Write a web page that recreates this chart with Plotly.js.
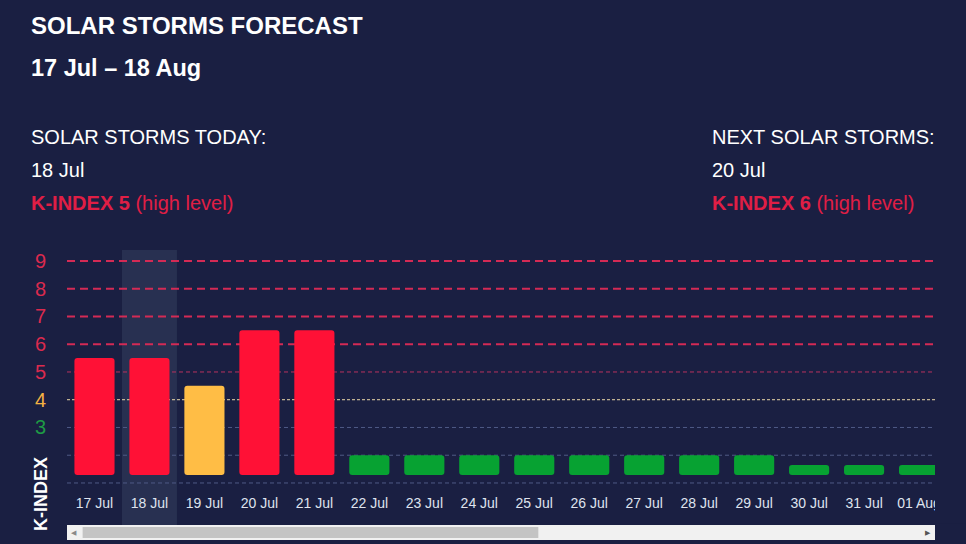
<!DOCTYPE html>
<html>
<head>
<meta charset="utf-8">
<script src="https://cdn.plot.ly/plotly-3.0.1.min.js"></script>
<style>
  html, body { margin: 0; padding: 0; background: #1a1f42; }
  #chart { width: 966px; height: 544px; }
</style>
</head>
<body>
<div id="chart"></div>
<script>
// ---- data ----
const days = ["17 Jul","18 Jul","19 Jul","20 Jul","21 Jul","22 Jul","23 Jul","24 Jul",
              "25 Jul","26 Jul","27 Jul","28 Jul","29 Jul","30 Jul","31 Jul","01 Aug"];
const barTop = [5.5, 5.5, 4.5, 6.5, 6.5, 2.0, 2.0, 2.0, 2.0, 2.0, 2.0, 2.0, 2.0, 1.65, 1.65, 1.65];
const barBase = 1.29;
const barLevel = ["high","high","medium","high","high","low","low","low","low","low","low","low","low","low","low","low"];
const levelColors = {high: "#ff1136", medium: "#ffbd45", low: "#07a232"};
const gridLevels = [1, 2, 3, 4, 5, 6, 7, 8, 9];
const tickValues = [3, 4, 5, 6, 7, 8, 9];
const tickLabels = ["3", "4", "5", "6", "7", "8", "9"];
const tickColors = ["#1e9a45", "#f2b142", "#dc2a4e", "#dc2a4e", "#dc2a4e", "#dc2a4e", "#dc2a4e"];
const todayDay = "18 Jul";

const titleText = "SOLAR STORMS FORECAST";
const rangeText = "17 Jul \u2013 18 Aug";
const todayHead = "SOLAR STORMS TODAY:";
const todayDate = "18 Jul";
const todayK = 5;
const nextHead = "NEXT SOLAR STORMS:";
const nextDate = "20 Jul";
const nextK = 6;

// ---- styles ----
const BG = "#1a1f42";
const RED_TXT = "#e01e45";

function gridStyle(v) {
  if (v >= 6) return {color: "#d42a55", width: 2, dash: "8px,5px"};
  if (v === 5) return {color: "#b8325e", width: 1, dash: "4px,3px"};
  if (v === 4) return {color: "#efdcaa", width: 1, dash: "3px,2px"};
  return {color: "#4f5a85", width: 1, dash: "4px,3px"};
}

const shapes = [];
// highlight band for today
shapes.push({type: "rect", xref: "x", yref: "paper", layer: "below",
  x0: days.indexOf(todayDay) - 0.5, x1: days.indexOf(todayDay) + 0.5, y0: -0.165, y1: 1,
  fillcolor: "#283051", line: {width: 0}});
gridLevels.forEach(v => {
  const s = gridStyle(v);
  shapes.push({type: "line", xref: "paper", yref: "y", layer: "below",
    x0: 0, x1: 1, y0: v, y1: v, line: s});
});
// cover overflowing last label
shapes.push({type: "rect", xref: "paper", yref: "paper", layer: "above",
  x0: 1.0, x1: 1.05, y0: -0.16, y1: 0, fillcolor: BG, line: {width: 0}});
// scrollbar
shapes.push({type: "rect", xref: "paper", yref: "paper", layer: "above",
  x0: 0, x1: 1, y0: -0.229, y1: -0.165, fillcolor: "#f1f1f1", line: {width: 0}});
shapes.push({type: "rect", xref: "paper", yref: "paper", layer: "above",
  x0: 0.018, x1: 0.543, y0: -0.220, y1: -0.174, fillcolor: "#c4c4c4", line: {width: 0}});

const trace = {
  type: "bar",
  x: days,
  y: barTop.map(t => t - barBase),
  base: barBase,
  width: 0.73,
  marker: {color: barLevel.map(l => levelColors[l]), line: {width: 0}},
  hoverinfo: "skip"
};

function px2py(py) { return (486 - py) / 236; }
function px2px(px) { return (px - 66.5) / 868.5; }

const LX = 28, RX = 710;
const annotations = [
  {text: "<b>" + titleText + "</b>", x: px2px(LX), y: px2py(25), font: {size: 24, color: "#ffffff"}},
  {text: "<b>" + rangeText + "</b>", x: px2px(LX), y: px2py(68), font: {size: 23.5, color: "#ffffff"}},
  {text: todayHead, x: px2px(LX), y: px2py(137), font: {size: 20, color: "#ffffff"}},
  {text: todayDate, x: px2px(LX), y: px2py(170), font: {size: 20, color: "#ffffff"}},
  {text: "<b>K-INDEX " + todayK + "</b> (high level)", x: px2px(LX), y: px2py(203), font: {size: 20, color: RED_TXT}},
  {text: nextHead, x: px2px(RX), y: px2py(137), font: {size: 20, color: "#ffffff"}},
  {text: nextDate, x: px2px(RX), y: px2py(170), font: {size: 20, color: "#ffffff"}},
  {text: "<b>K-INDEX " + nextK + "</b> (high level)", x: px2px(RX), y: px2py(203), font: {size: 20, color: RED_TXT}},
  {text: "<b>K-INDEX</b>", textangle: -90, x: px2px(40.5), y: px2py(494), xanchor: "center", yanchor: "middle",
   font: {size: 18, color: "#ffffff"}},
  {text: "\u25C0", x: px2px(74), y: px2py(532.5), xanchor: "center", yanchor: "middle", font: {size: 7, color: "#8a8a8a"}},
  {text: "\u25B6", x: px2px(928), y: px2py(532.5), xanchor: "center", yanchor: "middle", font: {size: 7, color: "#555555"}}
].map(a => Object.assign({xref: "paper", yref: "paper", xanchor: "left", yanchor: "middle", showarrow: false}, a));

const layout = {
  width: 966, height: 544,
  margin: {l: 66.5, r: 31, t: 250, b: 58},
  paper_bgcolor: BG, plot_bgcolor: BG,
  font: {family: "Liberation Sans, Arial, sans-serif", color: "#ffffff"},
  showlegend: false,
  barcornerradius: 3,
  xaxis: {
    type: "category", range: [-0.5, 15.29], showgrid: false, zeroline: false, showline: false,
    ticks: "", tickfont: {size: 14, color: "#dfe3ee"}, ticklabelstandoff: 7, fixedrange: true
  },
  yaxis: {
    range: [0.891, 9.396], showgrid: false, zeroline: false, showline: false, ticks: "",
    tickvals: tickValues,
    ticktext: tickLabels.map((t, i) => '<span style="color:' + tickColors[i] + '">' + t + '</span>'),
    tickfont: {size: 20}, ticklabelstandoff: 20, fixedrange: true
  },
  shapes: shapes,
  annotations: annotations
};

Plotly.newPlot("chart", [trace], layout, {displayModeBar: false, staticPlot: true});
</script>
</body>
</html>
